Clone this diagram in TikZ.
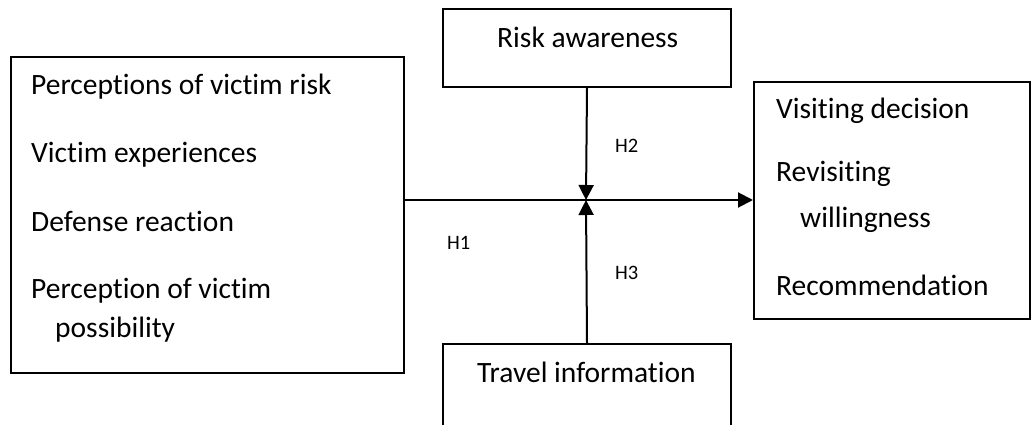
\documentclass[tikz,border=0pt]{standalone}
\usepackage{fontspec}
\setmainfont[Ligatures=NoCommon]{Carlito}
\usetikzlibrary{arrows.meta}
\begin{document}
\begin{tikzpicture}[x=1pt,y=-1pt,
  box/.style={draw,line width=2pt,inner sep=0pt,anchor=north west},
  txt/.style={anchor=base west,inner sep=0pt,font=\fontsize{29.5}{33}\selectfont},
  hlab/.style={anchor=base west,inner sep=0pt,font=\fontsize{20.5}{24}\selectfont},
  link/.style={line width=2pt,-{Triangle[length=15pt,width=15pt]}}]
\useasboundingbox (0,0) rectangle (1031,425);
\clip (0,0) rectangle (1031,425);
% boxes
\node[box,minimum width=393pt,minimum height=316pt] (L) at (10,56) {};
\node[box,minimum width=288pt,minimum height=78pt] (T) at (442,8) {};
\node[box,minimum width=288pt,minimum height=100pt] (B) at (442,343) {};
\node[box,minimum width=276pt,minimum height=237pt] (R) at (753,81) {};
% texts
\node[txt] (l1) at (31,95) {Perceptions of victim risk};
\node[txt] (l2) at (31,163) {Victim experiences};
\node[txt] (l3) at (31,231) {Defense reaction};
\node[txt] (l4) at (31,298) {Perception of victim};
\node[txt] (l5) at (55,337) {possibility};
\node[txt] (t1) at (497,48) {Risk awareness};
\node[txt] (b1) at (477,382) {Travel information};
\node[txt] (r1) at (776,119) {Visiting decision};
\node[txt] (r2) at (776,182) {Revisiting};
\node[txt] (r3) at (800,227) {willingness};
\node[txt] (r4) at (776,295) {Recommendation};
% hypothesis labels
\node[hlab] (h1) at (447,249) {H1};
\node[hlab] (h2) at (615,153) {H2};
\node[hlab] (h3) at (615,279) {H3};
% connectors
\coordinate (X) at (586,200);
\draw[link] (L.east |- X) -- (R.west |- X);
\draw[link] (T.south) -- (X);
\draw[link] (B.north) -- (X);
\end{tikzpicture}
\end{document}
